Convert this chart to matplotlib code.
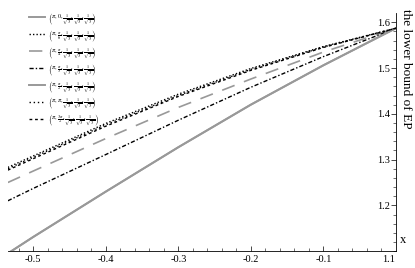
import matplotlib
matplotlib.use("Agg")
import matplotlib.pyplot as plt

plt.rcParams['font.family'] = ['Liberation Serif', 'DejaVu Serif']
plt.rcParams['mathtext.fontset'] = 'stix'

# x values
x = [-0.535, -0.5, -0.4, -0.3, -0.2, -0.1, 0.0]

# lower bound of EP for each parameter set
ep_0 = [1.095, 1.131, 1.230, 1.327, 1.420, 1.506, 1.587]
ep_pi6 = [1.283, 1.308, 1.379, 1.443, 1.499, 1.547, 1.587]
ep_pi4 = [1.250, 1.275, 1.346, 1.414, 1.476, 1.535, 1.587]
ep_pi3 = [1.210, 1.237, 1.311, 1.386, 1.458, 1.525, 1.587]
ep_pi2 = [1.095, 1.131, 1.230, 1.327, 1.420, 1.506, 1.587]
ep_pi = [1.280, 1.305, 1.376, 1.440, 1.497, 1.546, 1.587]
ep_3pi2 = [1.277, 1.302, 1.373, 1.438, 1.495, 1.545, 1.587]

s3 = r"\frac{1}{\sqrt{3}}"
tail = ", " + s3 + ", " + s3 + ", " + s3 + r"\right)$"
labels = [
    r"$\left(\pi, 0" + tail,
    r"$\left(\pi, \frac{\pi}{6}" + tail,
    r"$\left(\pi, \frac{\pi}{4}" + tail,
    r"$\left(\pi, \frac{\pi}{3}" + tail,
    r"$\left(\pi, \frac{\pi}{2}" + tail,
    r"$\left(\pi, \pi" + tail,
    r"$\left(\pi, \frac{3\pi}{2}" + tail,
]

gray = '#999999'
series = [ep_0, ep_pi6, ep_pi4, ep_pi3, ep_pi2, ep_pi, ep_3pi2]
styles = [
    dict(color=gray, lw=1.4, ls='-'),
    dict(color='black', lw=1.0, ls=(0, (1, 1.5))),
    dict(color=gray, lw=1.2, ls=(0, (8, 6))),
    dict(color='black', lw=1.0, ls=(0, (3, 1.5, 1, 1.5))),
    dict(color=gray, lw=1.4, ls='-'),
    dict(color='black', lw=1.0, ls=(0, (1, 2))),
    dict(color='black', lw=1.0, ls=(0, (2, 2))),
]

fig = plt.figure(figsize=(4.15, 2.68), dpi=100)
ax = fig.add_axes([0.019, 0.063, 0.935, 0.888])

for ys, st, lab in zip(series, styles, labels):
    ax.plot(x, ys, label=lab, **st)

ax.set_xlim(-0.535, 0.0)
ax.set_ylim(1.1, 1.62)

ax.spines['top'].set_visible(False)
ax.spines['right'].set_visible(False)
ax.spines['left'].set_position(('data', 0))
ax.spines['left'].set_linewidth(0.6)
ax.spines['bottom'].set_linewidth(0.6)

ax.set_xticks([-0.5, -0.4, -0.3, -0.2, -0.1])
ax.set_xticklabels(['-0.5', '-0.4', '-0.3', '-0.2', '-0.1'])
ax.set_xticks([v / 100 for v in range(-52, 0, 2)], minor=True)
ax.set_yticks([1.2, 1.3, 1.4, 1.5, 1.6])
ax.set_yticks([v / 100 for v in range(110, 162, 2)], minor=True)
ax.tick_params(axis='x', direction='in', length=3.5, width=0.5, labelsize=7.5, pad=3)
ax.tick_params(axis='x', which='minor', direction='in', length=2, width=0.4)
ax.tick_params(axis='y', direction='out', length=3.5, width=0.5, labelsize=7.5, pad=1)
ax.tick_params(axis='y', which='minor', direction='out', length=2, width=0.4)

ax.text(-0.001, 1.081, '1.1', fontsize=7.5, ha='right', va='center')
ax.text(0.006, 1.125, 'x', fontsize=9, ha='left', va='center')
fig.text(0.978, 0.965, 'the lower bound of EP', rotation=-90, fontsize=9.5,
         ha='center', va='top')

ax.legend(loc='upper left', bbox_to_anchor=(0.04, 1.03), frameon=False,
          fontsize=4.5, handlelength=2.5, labelspacing=0.25, handletextpad=0.5)

fig.savefig('out.png', dpi=100)
